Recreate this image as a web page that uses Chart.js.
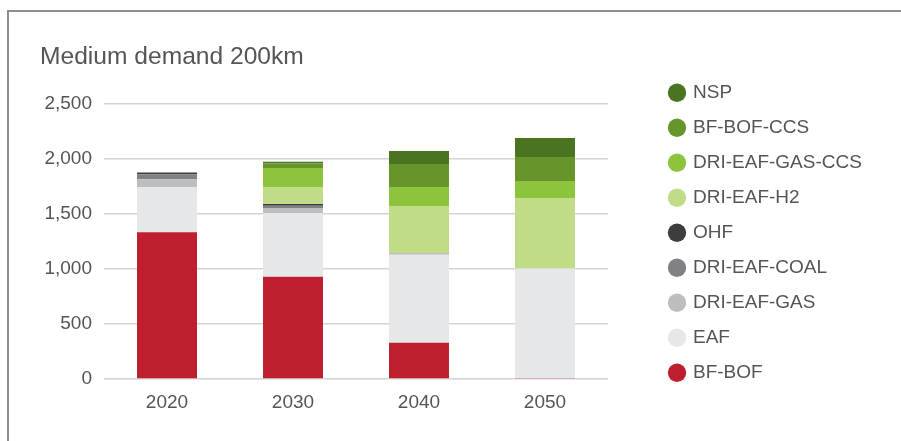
<!DOCTYPE html>
<html>
<head>
<meta charset="utf-8">
<script src="https://cdn.jsdelivr.net/npm/chart.js@4"></script>
<style>
  html, body { margin: 0; padding: 0; width: 901px; height: 441px; overflow: hidden; background: #fff; }
  #frame { position: absolute; left: 7px; top: 10px; width: 1000px; height: 1000px;
           border-left: 2px solid #8e8e8e; border-top: 2px solid #8e8e8e; }
  #wrap { position: absolute; left: 0; top: 0; width: 901px; height: 441px; }
</style>
</head>
<body>
<div id="frame"></div>
<div id="wrap"><canvas id="c"></canvas></div>
<script>
// ---- data ----
const categories = ['2020', '2030', '2040', '2050'];
const bfBof        = [1334, 930, 330, 5];
const eaf          = [410, 580, 800, 1000];
const driEafGas    = [73, 40, 12, 0];
const driEafCoal   = [45, 25, 4, 0];
const ohf          = [15, 15, 0, 0];
const driEafH2     = [0, 155, 427, 640];
const driEafGasCcs = [0, 173, 172, 155];
const bfBofCcs     = [0, 42, 210, 218];
const nsp          = [0, 15, 118, 173];
const yTicks = [0, 500, 1000, 1500, 2000, 2500];

const TEXT = '#555555';
const FONT = "'Liberation Sans', Arial, sans-serif";

const seriesDefs = [
  ['BF-BOF', bfBof, '#be1e2d'],
  ['EAF', eaf, '#e6e7e8'],
  ['DRI-EAF-GAS', driEafGas, '#bcbdc0'],
  ['DRI-EAF-COAL', driEafCoal, '#808184'],
  ['OHF', ohf, '#3d3d3d'],
  ['DRI-EAF-H2', driEafH2, '#c1dc87'],
  ['DRI-EAF-GAS-CCS', driEafGasCcs, '#8cc43e'],
  ['BF-BOF-CCS', bfBofCcs, '#67952b'],
  ['NSP', nsp, '#4a7420']
];

const datasets = seriesDefs.map(([label, data, color]) => ({
  label, data, backgroundColor: color, borderWidth: 0,
  categoryPercentage: 1.0, barPercentage: 0.476
}));

const LEGEND_BOX_W = 246;
const LEGEND_LEFT = 654.5;
const LEGEND_TOP = 67.2;

const legendPlacement = {
  id: 'legendPlacement',
  afterInit(chart) {
    const lg = chart.legend;
    const fit = lg.fit;
    lg.fit = function () { fit.call(this); this.width = LEGEND_BOX_W; };
  },
  afterLayout(chart) {
    const lg = chart.legend;
    const w = lg.right - lg.left, h = lg.bottom - lg.top;
    lg.left = LEGEND_LEFT; lg.right = LEGEND_LEFT + w;
    lg.top = LEGEND_TOP; lg.bottom = LEGEND_TOP + h;
  }
};

new Chart(document.getElementById('c'), {
  type: 'bar',
  data: { labels: categories, datasets },
  plugins: [legendPlacement],
  options: {
    responsive: true,
    maintainAspectRatio: false,
    animation: false,
    layout: { padding: { left: 40, right: 47, top: 0, bottom: 0 } },
    plugins: {
      title: {
        display: true,
        text: 'Medium demand 200km',
        align: 'start',
        color: TEXT,
        font: { family: FONT, size: 24.6, weight: 'normal' },
        padding: { top: 42.2, bottom: 32.3 }
      },
      legend: {
        position: 'right',
        align: 'start',
        reverse: true,
        labels: {
          usePointStyle: true,
          pointStyle: 'circle',
          boxWidth: 13,
          boxHeight: 13,
          padding: 16,
          color: TEXT,
          font: { family: FONT, size: 19 }
        }
      },
      tooltip: { enabled: false }
    },
    scales: {
      x: {
        stacked: true,
        grid: { display: false, drawTicks: false },
        border: { display: false },
        ticks: { color: TEXT, font: { family: FONT, size: 19 }, padding: 12 },
        afterFit(s) { s.height = 62; }
      },
      y: {
        stacked: true,
        min: 0, max: 2500,
        afterBuildTicks(s) { s.ticks = yTicks.map(v => ({ value: v })); },
        grid: { color: '#d4d4d4', lineWidth: 1.5, drawTicks: false },
        border: { display: false },
        ticks: {
          color: TEXT, font: { family: FONT, size: 19 }, padding: 12,
          callback: v => v.toLocaleString('en-US')
        },
        afterFit(s) { s.width = 64; }
      }
    }
  }
});
</script>
</body>
</html>
